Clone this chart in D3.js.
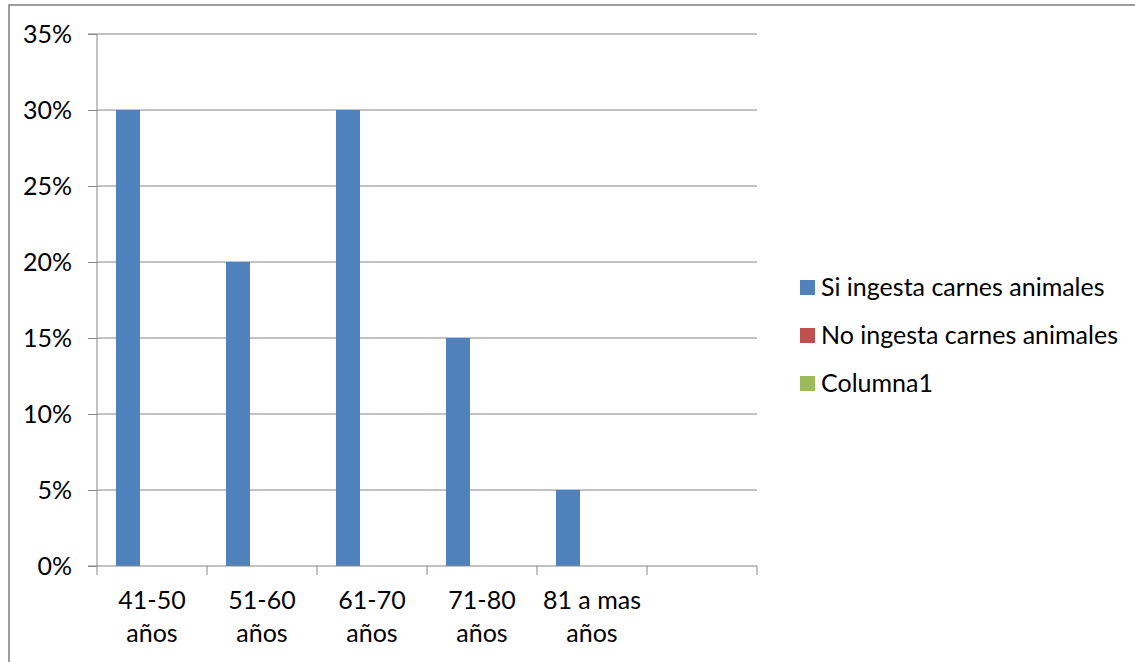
<!DOCTYPE html>
<html><head><meta charset="utf-8">
<script src="https://cdn.jsdelivr.net/npm/d3@7"></script>
<style>body{margin:0;background:#fff}svg{display:block}text{font-family:"Lato","Liberation Sans",sans-serif;fill:#000}</style>
</head><body><svg id="c" width="1135" height="662"></svg>
<script>
const categories = ["41-50 años","51-60 años","61-70 años","71-80 años","81 a mas años",""];
const seriesNames = ["Si ingesta carnes animales","No ingesta carnes animales","Columna1"];
const siValues = [30,20,30,15,5,null];
const noValues = [null,null,null,null,null,null];
const col1Values = [null,null,null,null,null,null];
const yTicks = [0,5,10,15,20,25,30,35];
const colors = ["#4F81BD","#C0504D","#9BBB59"];

const svg = d3.select("#c");
const m={left:97,right:757,top:34,bottom:566};
const fs=25;

svg.append("rect").attr("x",9).attr("y",5).attr("width",1140).attr("height",700)
  .attr("fill","#fff").attr("stroke","#868686").attr("stroke-width",1.6);

const x = d3.scaleBand().domain(d3.range(categories.length)).range([m.left,m.right]).paddingInner(0).paddingOuter(0);
const inner = d3.scaleBand().domain(d3.range(3)).range([0,x.bandwidth()]).paddingInner(0).paddingOuter(0.79);
const y = d3.scaleLinear().domain([0,35]).range([m.bottom,m.top]);

// gridlines
svg.append("g").selectAll("line").data(yTicks.filter(d=>d>0)).join("line")
  .attr("x1",m.left).attr("x2",m.right).attr("y1",d=>y(d)).attr("y2",d=>y(d))
  .attr("stroke","#868686").attr("stroke-width",1);

// bars
const allSeries=[siValues,noValues,col1Values];
allSeries.forEach((vals,si)=>{
  svg.append("g").selectAll("rect").data(vals.map((v,i)=>({v,i})).filter(d=>d.v!=null)).join("rect")
    .attr("x",d=>x(d.i)+inner(si)).attr("width",inner.bandwidth())
    .attr("y",d=>y(d.v)).attr("height",d=>y(0)-y(d.v)).attr("fill",colors[si]);
});

// y axis
const yAxis = d3.axisLeft(y).tickValues(yTicks).tickFormat(d=>d+"%").tickSize(9).tickPadding(16);
const gy = svg.append("g").attr("transform",`translate(${m.left},0)`).call(yAxis);
gy.select(".domain").attr("stroke","#868686").attr("d",`M-9,${m.top}H0V${m.bottom}`);
gy.selectAll(".tick line").attr("stroke","#868686");
gy.selectAll(".tick text").attr("font-size",fs).attr("font-family","Lato, Liberation Sans, sans-serif").attr("fill","#000");

// x axis line and ticks
const xTickPos = d3.range(categories.length+1).map(i=> i<categories.length ? x(i) : m.right);
svg.append("line").attr("x1",m.left-9).attr("x2",m.right).attr("y1",m.bottom).attr("y2",m.bottom).attr("stroke","#868686");
svg.append("g").selectAll("line").data(xTickPos).join("line")
  .attr("x1",d=>d).attr("x2",d=>d).attr("y1",m.bottom).attr("y2",m.bottom+9).attr("stroke","#868686");

// x labels
categories.forEach((c,i)=>{
  if(!c) return;
  const k=c.lastIndexOf(" ");
  const lines=[c.slice(0,k),c.slice(k+1)];
  const t=svg.append("text").attr("text-anchor","middle").attr("font-size",fs)
    .attr("x",x(i)+x.bandwidth()/2).attr("y",609);
  lines.forEach((l,j)=>t.append("tspan").attr("x",x(i)+x.bandwidth()/2).attr("y",609+j*33).text(l));
});

// legend
seriesNames.forEach((s,i)=>{
  const yy=280+i*48;
  svg.append("rect").attr("x",800).attr("y",yy).attr("width",15).attr("height",15).attr("fill",colors[i]);
  svg.append("text").attr("x",821).attr("y",yy+16).attr("font-size",fs).text(s);
});
</script></body></html>
